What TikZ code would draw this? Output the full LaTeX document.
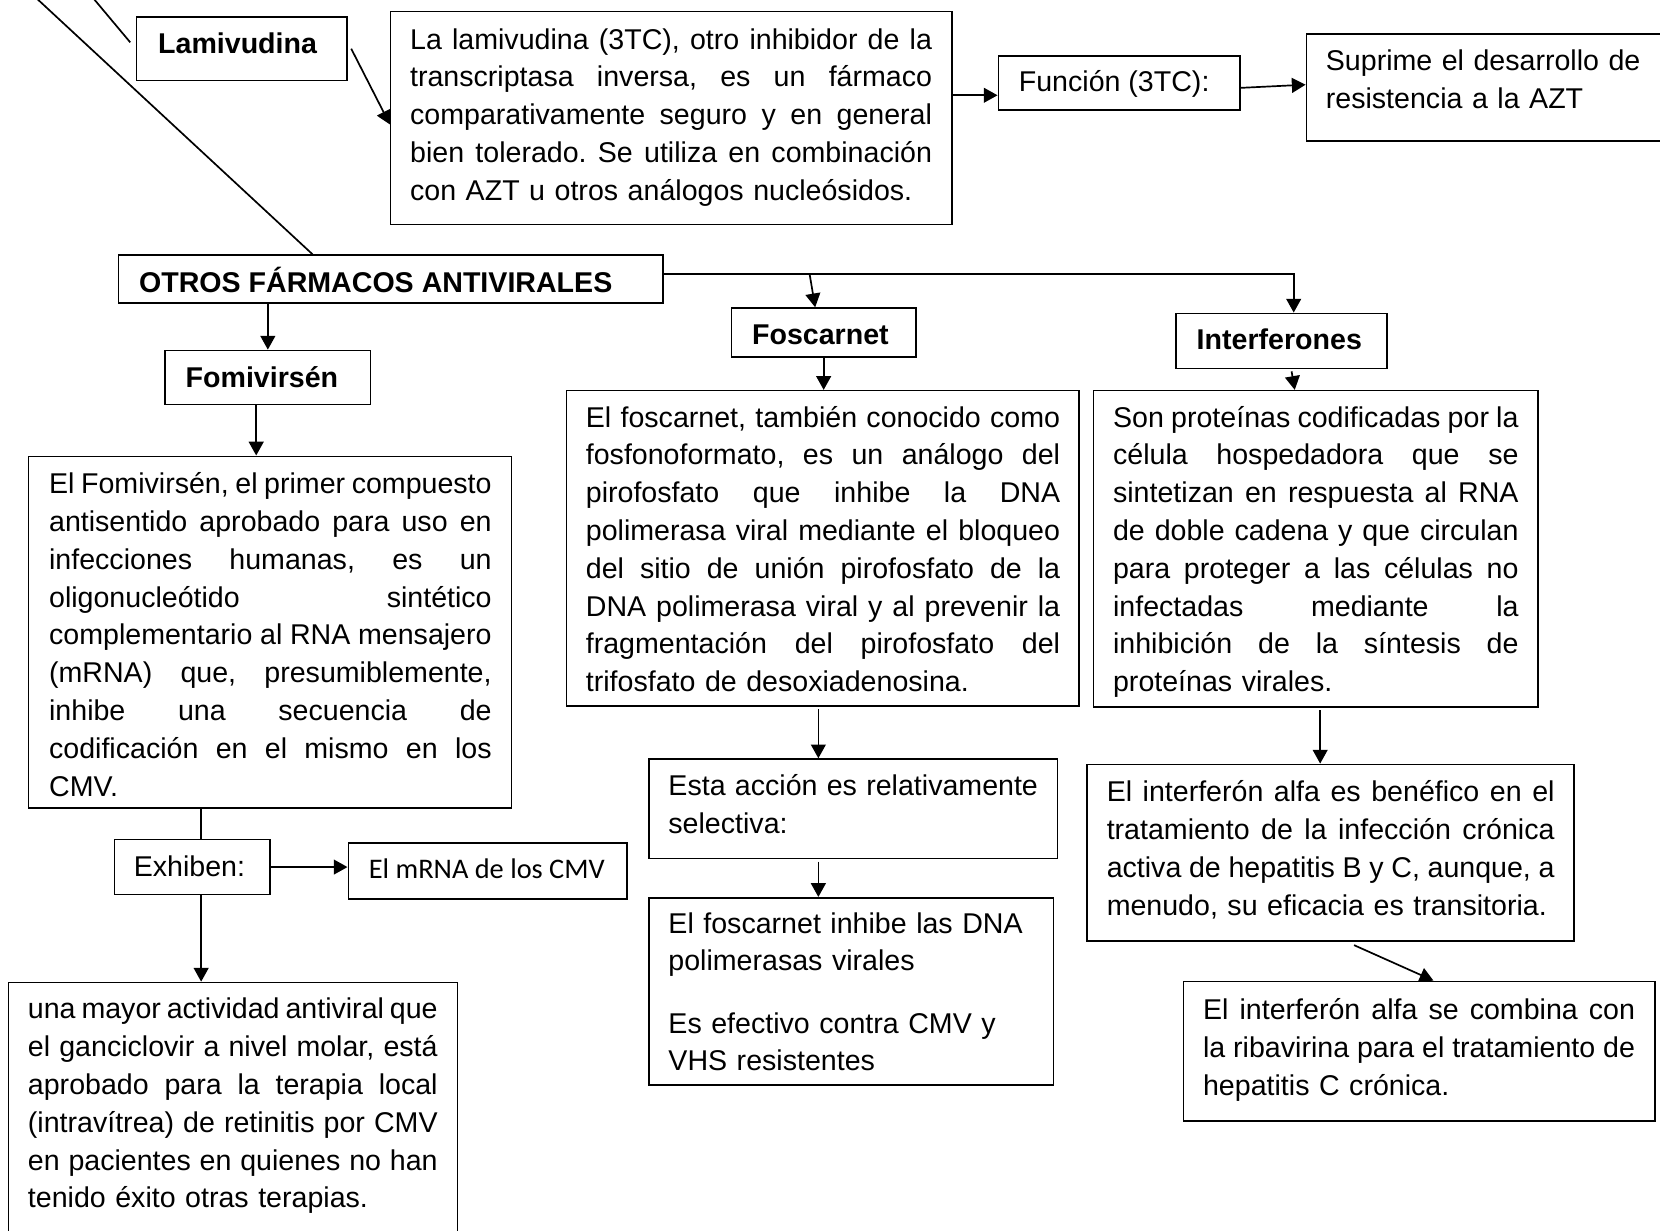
\documentclass[tikz,border=0pt]{standalone}
\usepackage{fontspec}
\setmainfont{Liberation Sans}
\newfontfamily\calib{Carlito}
\usetikzlibrary{arrows.meta,fit,calc}
\newcommand\jl[1]{\leavevmode\hbox to \linewidth{\spaceskip=0.278em plus 1fil minus 0.1em\relax #1}}
\newcommand\tstrut{\rule{0pt}{12pt}}
\frenchspacing
\begin{document}
\begin{tikzpicture}[x=0.5pt,y=-0.5pt,
  bx/.style={draw, inner sep=0pt, line width=0.75pt},
  body/.style={inner sep=0pt, anchor=north west, align=left, text width=#1,
    font=\fontsize{13.5pt}{17.85pt}\selectfont},
  ttl/.style={inner sep=0pt, anchor=base west, font=\fontsize{13.5pt}{17.85pt}\selectfont\bfseries},
  one/.style={inner sep=0pt, anchor=base west, font=\fontsize{13.5pt}{17.85pt}\selectfont},
  ln/.style={line width=0.8pt},
  arr/.style={line width=0.8pt, -{Triangle[length=6.5pt,width=7pt]}}]
\useasboundingbox (0,0) rectangle (1568,1162);

% boxes
\node[bx, fit={(129,16) (328,76)}] (lam) {};
\node[bx, fit={(369,11) (899,212)}] (lamd) {};
\node[bx, fit={(943,53) (1171,104)}] (fun) {};
\node[bx, fit={(1234,32) (1580,133)}] (sup) {};
\node[bx, fit={(112,241) (626,286)}] (otros) {};
\node[bx, fit={(156,331) (350,382)}] (fomi) {};
\node[bx, fit={(27,431) (483,763)}] (fomid) {};
\node[bx, fit={(108,793) (255,845)}] (exh) {};
\node[bx, fit={(329,796) (592,849)}] (mrna) {};
\node[bx, fit={(8,928) (432,1175)}] (bot) {};
\node[bx, fit={(691,291) (865,337)}] (fos) {};
\node[bx, fit={(535,369) (1019,667)}] (fosd) {};
\node[bx, fit={(613,717) (999,811)}] (esta) {};
\node[bx, fit={(613,848) (995,1025)}] (fosi) {};
\node[bx, fit={(1111,296) (1310,348)}] (intf) {};
\node[bx, fit={(1033,369) (1453,668)}] (intfd) {};
\node[bx, fit={(1027,722) (1487,889)}] (alfa) {};
\node[bx, fit={(1118,927) (1563,1059)}] (comb) {};

% titles and single lines
\node[ttl] (lam-t) at (149,51) {Lamivudina};
\node[ttl] (otros-t) at (131,276) {OTROS FÁRMACOS ANTIVIRALES};
\node[ttl] (fomi-t) at (175,366) {Fomivirsén};
\node[ttl] (fos-t) at (710,325) {Foscarnet};
\node[ttl] (intf-t) at (1130,330) {Interferones};
\node[one] (fun-t) at (962,86) {Función (3TC):};
\node[one] (exh-t) at (126,828) {Exhiben:};
\node[one, font=\calib\fontsize{13.4pt}{17pt}\selectfont] (mrna-t) at (348,830) {El mRNA de los CMV};

% paragraphs
\node[body=246.5pt] (lamd-t) at (387,22) {\tstrut\jl{La lamivudina (3TC), otro inhibidor de la}\\
\jl{transcriptasa inversa, es un fármaco}\\
\jl{comparativamente seguro y en general}\\
\jl{bien tolerado. Se utiliza en combinación}\\
con AZT u otros análogos nucleósidos.};

\node[body=150pt] (sup-t) at (1252,42) {\tstrut Suprime el desarrollo de\\ resistencia a la AZT};

\node[body=209pt] (fomid-t) at (46,442) {\tstrut\jl{El Fomivirsén, el primer compuesto}\\
\jl{antisentido aprobado para uso en}\\
\jl{infecciones humanas, es un}\\
\jl{oligonucleótido sintético}\\
\jl{complementario al RNA mensajero}\\
\jl{(mRNA) que, presumiblemente,}\\
\jl{inhibe una secuencia de}\\
\jl{codificación en el mismo en los}\\
CMV.};

\node[body=193.5pt] (bot-t) at (26,938) {\tstrut\jl{una mayor actividad antiviral que}\\
\jl{el ganciclovir a nivel molar, está}\\
\jl{aprobado para la terapia local}\\
\jl{(intravítrea) de retinitis por CMV}\\
\jl{en pacientes en quienes no han}\\
tenido éxito otras terapias.};

\node[body=224pt] (fosd-t) at (553,379) {\tstrut\jl{El foscarnet, también conocido como}\\
\jl{fosfonoformato, es un análogo del}\\
\jl{pirofosfato que inhibe la DNA}\\
\jl{polimerasa viral mediante el bloqueo}\\
\jl{del sitio de unión pirofosfato de la}\\
\jl{DNA polimerasa viral y al prevenir la}\\
\jl{fragmentación del pirofosfato del}\\
trifosfato de desoxiadenosina.};

\node[body=174.5pt] (esta-t) at (631,727) {\tstrut\jl{Esta acción es relativamente}\\
selectiva:};

\node[body=180pt] (fosi-t) at (631,857) {\tstrut El foscarnet inhibe las DNA\\
polimerasas virales\\[11.5pt]
Es efectivo contra CMV y\\
VHS resistentes};

\node[body=191.5pt] (intfd-t) at (1051,379) {\tstrut\jl{Son proteínas codificadas por la}\\
\jl{célula hospedadora que se}\\
\jl{sintetizan en respuesta al RNA}\\
\jl{de doble cadena y que circulan}\\
\jl{para proteger a las células no}\\
\jl{infectadas mediante la}\\
\jl{inhibición de la síntesis de}\\
proteínas virales.};

\node[body=211.5pt] (alfa-t) at (1045,733) {\tstrut\jl{El interferón alfa es benéfico en el}\\
\jl{tratamiento de la infección crónica}\\
\jl{activa de hepatitis B y C, aunque, a}\\
menudo, su eficacia es transitoria.};

\node[body=204pt] (comb-t) at (1136,939) {\tstrut\jl{El interferón alfa se combina con}\\
\jl{la ribavirina para el tratamiento de}\\
hepatitis C crónica.};

% free lines
\coordinate (tl1) at (33,-3);
\coordinate (tl2a) at (87,-3);
\coordinate (tl2b) at (123,40);
\draw[ln] (tl1) -- ([xshift=92pt]otros.north west);
\draw[ln] (tl2a) -- (tl2b);

% connectors
\coordinate (fa) at ([yshift=-5.75pt]fun.west);
\coordinate (hb) at ([yshift=2.25pt]otros.east);
\coordinate (fm) at ([xshift=-5.5pt]fomi.south);
\coordinate (ex) at ([xshift=4.25pt]exh.north);
\coordinate (exs) at ([xshift=4.25pt]exh.south);
\coordinate (fsd) at ([xshift=-2pt,yshift=-1pt]fosd.south);
\coordinate (ets) at ([xshift=-16.5pt,yshift=-1pt]esta.south);
\coordinate (ifs) at ([xshift=2pt,yshift=-1pt]intfd.south);
\draw[arr] ([xshift=1.5pt]lam.east) -- ([yshift=-3pt]lamd.west);
\draw[arr] (lamd.east |- fa) -- (fa);
\draw[arr] ([yshift=-2.25pt]fun.east) -- ([yshift=1.25pt]sup.west);
\draw[arr] (hb) -| ([xshift=5.75pt]intf.north);
\draw[arr] ([xshift=69pt]hb) -- ([xshift=-4pt]fos.north);
\draw[arr] (otros.south -| fomi.north) -- (fomi.north);
\draw[arr] (fm) -- (fm |- fomid.north);
\draw[ln] (ex |- fomid.south) -- (ex);
\draw[arr] (exh.east) -- (exh.east -| mrna.west);
\draw[arr] (exs) -- (exs |- bot.north);
\draw[arr] (fos.south) -- (fos.south |- fosd.north);
\draw[arr] (fsd) -- (fsd |- esta.north);
\draw[arr] (ets) -- (ets |- fosi.north);
\draw[arr] ([xshift=4.75pt,yshift=-1pt]intf.south) -- ([xshift=-10pt]intfd.north);
\draw[arr] (ifs) -- (ifs |- alfa.north);
\draw[arr] ([xshift=11pt,yshift=-1.5pt]alfa.south) -- ([xshift=6.75pt]comb.north);
\end{tikzpicture}
\end{document}
